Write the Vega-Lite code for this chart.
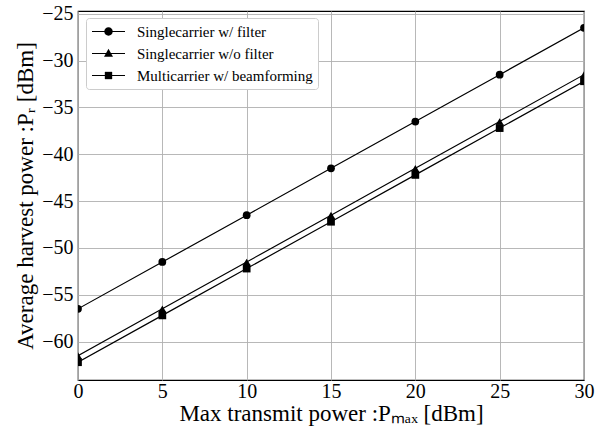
{
  "$schema": "https://vega.github.io/schema/vega-lite/v6.json",
  "autosize": {"type": "none"},
  "width": 506,
  "height": 369,
  "padding": {"left": 78, "top": 11, "right": 24, "bottom": 47},
  "background": "white",
  "config": {
    "view": {"stroke": "black", "strokeWidth": 1.2},
    "font": "Liberation Serif",
    "axis": {
      "labelFont": "Liberation Serif",
      "titleFont": "Liberation Serif",
      "labelFontSize": 20,
      "titleFontSize": 23,
      "titleFontWeight": "normal",
      "labelColor": "black",
      "titleColor": "black",
      "domain": false,
      "ticks": false,
      "gridColor": "#b0b0b0",
      "gridWidth": 0.9
    }
  },
  "data": {
    "values": [
      {"series": "Singlecarrier w/ filter", "px": 0, "py": -56.5},
      {"series": "Singlecarrier w/ filter", "px": 5, "py": -51.5},
      {"series": "Singlecarrier w/ filter", "px": 10, "py": -46.5},
      {"series": "Singlecarrier w/ filter", "px": 15, "py": -41.5},
      {"series": "Singlecarrier w/ filter", "px": 20, "py": -36.5},
      {"series": "Singlecarrier w/ filter", "px": 25, "py": -31.5},
      {"series": "Singlecarrier w/ filter", "px": 30, "py": -26.5},
      {"series": "Singlecarrier w/o filter", "px": 0, "py": -61.5},
      {"series": "Singlecarrier w/o filter", "px": 5, "py": -56.5},
      {"series": "Singlecarrier w/o filter", "px": 10, "py": -51.5},
      {"series": "Singlecarrier w/o filter", "px": 15, "py": -46.5},
      {"series": "Singlecarrier w/o filter", "px": 20, "py": -41.5},
      {"series": "Singlecarrier w/o filter", "px": 25, "py": -36.5},
      {"series": "Singlecarrier w/o filter", "px": 30, "py": -31.5},
      {"series": "Multicarrier w/ beamforming", "px": 0, "py": -62.2},
      {"series": "Multicarrier w/ beamforming", "px": 5, "py": -57.2},
      {"series": "Multicarrier w/ beamforming", "px": 10, "py": -52.2},
      {"series": "Multicarrier w/ beamforming", "px": 15, "py": -47.2},
      {"series": "Multicarrier w/ beamforming", "px": 20, "py": -42.2},
      {"series": "Multicarrier w/ beamforming", "px": 25, "py": -37.2},
      {"series": "Multicarrier w/ beamforming", "px": 30, "py": -32.2}
    ]
  },
  "encoding": {
    "x": {
      "field": "px", "type": "quantitative",
      "scale": {"domain": [0, 30], "nice": false, "zero": false},
      "axis": {"values": [0, 5, 10, 15, 20, 25, 30], "title": "Max transmit power :Pₘₐₓ [dBm]", "labelFont": "Liberation Serif", "labelFontSize": 20, "labelPadding": 1, "titlePadding": 1, "labelFlush": false}
    },
    "y": {
      "field": "py", "type": "quantitative",
      "scale": {"domain": [-64.1, -24.7], "nice": false, "zero": false},
      "axis": {"values": [-60, -55, -50, -45, -40, -35, -30, -25], "title": "Average harvest power :Pᵣ [dBm]", "labelFont": "Liberation Serif", "labelFontSize": 20, "labelPadding": 5, "titlePadding": 4}
    }
  },
  "layer": [
    {
      "mark": {"type": "line", "color": "black", "strokeWidth": 1.2, "clip": true},
      "encoding": {"detail": {"field": "series"}}
    },
    {
      "mark": {"type": "point", "filled": true, "color": "black", "opacity": 1, "clip": true, "size": 60},
      "encoding": {
        "shape": {
          "field": "series", "type": "nominal",
          "scale": {"domain": ["Singlecarrier w/ filter", "Singlecarrier w/o filter", "Multicarrier w/ beamforming"], "range": ["circle", "triangle-up", "square"]},
          "legend": null
        }
      }
    },
    {
      "transform": [{"filter": "datum.px < -100"}],
      "mark": {"type": "point", "filled": false, "color": "black", "strokeWidth": 1.2, "opacity": 1, "clip": true},
      "encoding": {
        "shape": {
          "field": "series", "type": "nominal",
          "scale": {
            "domain": ["Singlecarrier w/ filter", "Singlecarrier w/o filter", "Multicarrier w/ beamforming"],
            "range": ["M-1,0H3.4", "M-1,0H3.4", "M-1,0H3.4"]
          },
          "legend": {
            "title": null,
            "orient": "none",
            "legendX": 8,
            "legendY": 7,
            "symbolSize": 225,
            "symbolStrokeColor": "black",
            "symbolStrokeWidth": 1.2,
            "labelFont": "Liberation Serif",
            "labelFontSize": 15,
            "labelColor": "black",
            "labelOffset": 29,
            "labelLimit": 400,
            "rowPadding": 5,
            "padding": 5,
            "fillColor": "white",
            "strokeColor": "#cccccc",
            "cornerRadius": 3
          }
        }
      }
    },
    {
      "transform": [{"filter": "datum.px < -100"}],
      "mark": {"type": "point", "filled": true, "color": "black", "opacity": 1, "clip": true},
      "encoding": {
        "shape": {
          "field": "series", "type": "nominal",
          "scale": {
            "domain": ["Singlecarrier w/ filter", "Singlecarrier w/o filter", "Multicarrier w/ beamforming"],
            "range": [
              "M0.64,0A0.56,0.56,0,1,1,1.76,0A0.56,0.56,0,1,1,0.64,0Z",
              "M1.2,-0.62L1.8,0.44L0.6,0.44Z",
              "M0.71,-0.49H1.69V0.49H0.71Z"
            ]
          },
          "legend": {
            "title": null,
            "orient": "none",
            "legendX": 8,
            "legendY": 7,
            "symbolSize": 225,
            "symbolFillColor": "black",
            "labelFont": "Liberation Serif",
            "labelFontSize": 15,
            "labelColor": "black",
            "labelOpacity": 0,
            "labelOffset": 29,
            "labelLimit": 400,
            "rowPadding": 5,
            "padding": 5
          }
        }
      }
    }
  ],
  "resolve": {"scale": {"shape": "independent"}, "legend": {"shape": "independent"}}
}
